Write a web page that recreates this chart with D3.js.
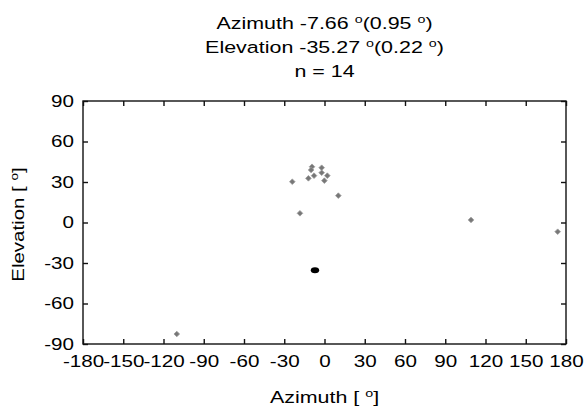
<!DOCTYPE html>
<html>
<head>
<meta charset="utf-8">
<script src="https://cdn.jsdelivr.net/npm/d3@7"></script>
<style>
  body { margin: 0; background: #fff; }
  svg { display: block; font-family: 'Liberation Sans', Arial, sans-serif; }
  .tick text { font-size: 16.5px; fill: #000; }
</style>
</head>
<body>
<div id="vis"></div>
<script>
// single measurements (azimuth, elevation) in degrees
const azimuth = [-24, -9.3, -10, -12, -7.8, -2.1, -2.1, 2.1, -0.1, 10.3, -18.3, 109.2, 173.8, -110.1]
const elevation = [30.2, 41.3, 38.9, 32.7, 34.7, 40.6, 36.9, 34.7, 31, 19.9, 6.8, 1.9, -6.8, -82.6]

// mean direction
const meanAz = [-7.1]
const meanEl = [-35.4]

const xTicks = [-180, -150, -120, -90, -60, -30, 0, 30, 60, 90, 120, 150, 180]
const yTicks = [-90, -60, -30, 0, 30, 60, 90]

const titleLines = [
	['Azimuth -7.66 ', '(0.95 ', ')'],
	['Elevation -35.27 ', '(0.22 ', ')'],
]

const W = 588
const H = 411
const MARGIN = { top: 101, bottom: 67, left: 83, right: 22 }
const chartW = W - MARGIN.left - MARGIN.right
const chartH = H - MARGIN.top - MARGIN.bottom
const FS = 16.5
// the original glyphs run wider than Liberation Sans
const STRETCH = 1.3
const TICK_STRETCH = 1.25

const scale = {}
scale.x = d3.scaleLinear().domain([-180, 180]).range([0, chartW])
scale.y = d3.scaleLinear().domain([-90, 90]).range([chartH, 0])

const svg = d3.select('#vis').append('svg')
	.attr('width', W)
	.attr('height', H)

const chart = svg.append('g')
	.attr('transform', `translate(${MARGIN.left},${MARGIN.top})`)

// axes, ticks pointing inwards on all four sides
const axisStyle = g => {
	g.select('.domain').remove()
	g.selectAll('.tick line').attr('stroke', '#111').attr('stroke-width', 1.4)
	g.selectAll('.tick text').each(function() {
		const x = +this.getAttribute('x') || 0
		d3.select(this)
			.attr('x', 0)
			.attr('transform', `translate(${x},0) scale(${TICK_STRETCH},1)`)
	})
}

const fmt = d => String(d)

chart.append('g')
	.attr('transform', `translate(0,${chartH})`)
	.call(d3.axisBottom(scale.x).tickValues(xTicks).tickSize(-5).tickPadding(11).tickFormat(fmt))
	.call(axisStyle)

chart.append('g')
	.call(d3.axisTop(scale.x).tickValues(xTicks).tickSize(-5).tickFormat(''))
	.call(axisStyle)

chart.append('g')
	.call(d3.axisLeft(scale.y).tickValues(yTicks).tickSize(-5).tickPadding(9).tickFormat(fmt))
	.call(axisStyle)

chart.append('g')
	.attr('transform', `translate(${chartW},0)`)
	.call(d3.axisRight(scale.y).tickValues(yTicks).tickSize(-5).tickFormat(''))
	.call(axisStyle)

chart.append('rect')
	.attr('width', chartW)
	.attr('height', chartH)
	.attr('fill', 'none')
	.attr('stroke', '#111')
	.attr('stroke-width', 1.4)

// gray points
const diamond = d3.symbol().type(d3.symbolDiamond2).size(20)
const points = azimuth.map((a, i) => ({ az: a, el: elevation[i] }))

chart.selectAll('.pt')
	.data(points)
	.enter()
	.append('path')
	.attr('class', 'pt')
	.attr('d', diamond)
	.attr('transform', d => `translate(${scale.x(d.az)},${scale.y(d.el)})`)
	.attr('fill', '#777')
	.attr('stroke', '#999')
	.attr('stroke-width', 0.8)

// mean point, a bit wider
chart.selectAll('.mean')
	.data(meanAz.map((a, i) => ({ az: a, el: meanEl[i] })))
	.enter()
	.append('ellipse')
	.attr('class', 'mean')
	.attr('cx', d => scale.x(d.az))
	.attr('cy', d => scale.y(d.el))
	.attr('rx', 4.2)
	.attr('ry', 3)
	.attr('fill', '#000')

// text with superscript degree 'o'
function degText(x, y, parts, rotate, stretch = STRETCH) {
	const t = svg.append('text')
		.attr('transform', `translate(${x},${y})${rotate ? ' rotate(-90)' : ''} scale(${stretch},1)`)
		.attr('text-anchor', 'middle')
		.attr('font-size', FS)
		.attr('fill', '#000')
	parts.forEach((p, i) => {
		if (i > 0) t.append('tspan').attr('font-size', 11).attr('dy', -6).text('o')
		t.append('tspan').attr('dy', i > 0 ? 6 : 0).text(p)
	})
	return t
}

const cx = MARGIN.left + chartW / 2
const baselines = [29, 53]

titleLines.forEach((parts, i) => degText(cx, baselines[i], parts))
degText(cx, 77, ['n = 14'])

// axis labels
degText(cx, 403, ['Azimuth [ ', ']'])
degText(24, MARGIN.top + chartH / 2 + 2, ['Elevation [ ', ']'], true, 1.24)
</script>
</body>
</html>
